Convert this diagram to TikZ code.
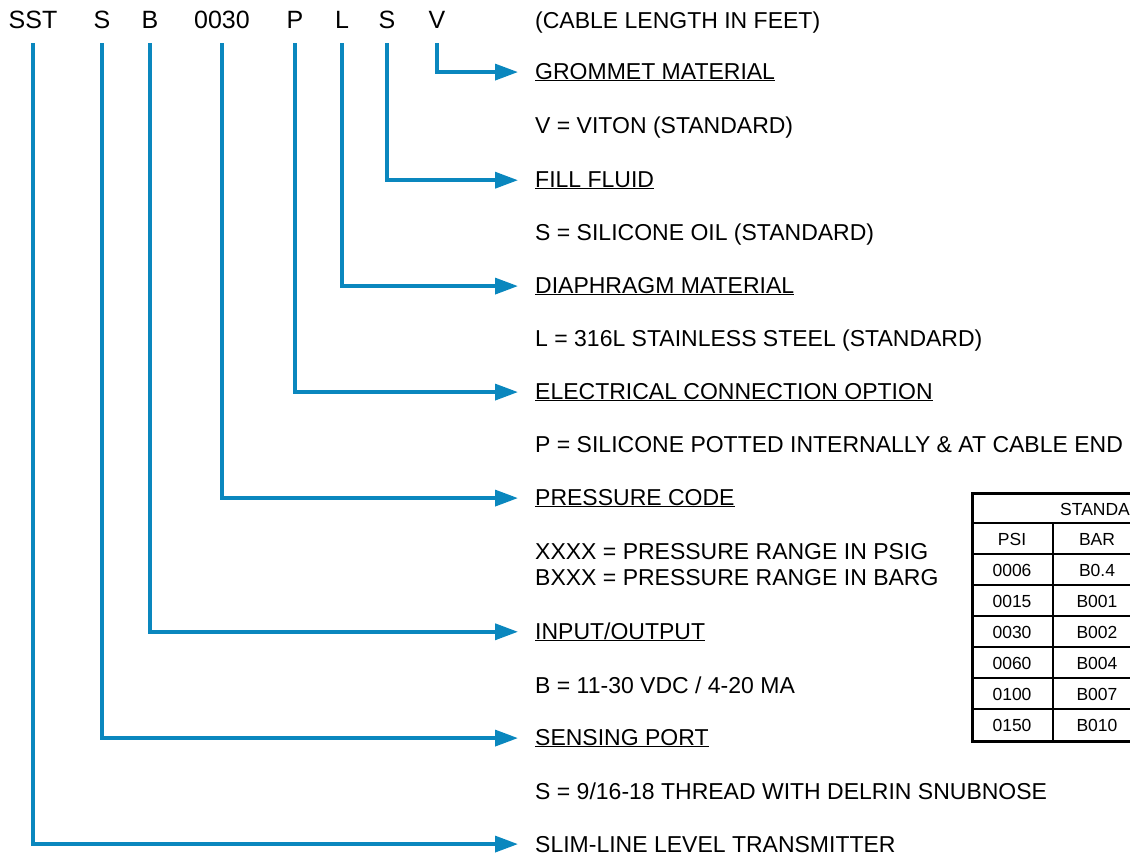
\documentclass[tikz,border=0pt]{standalone}
\usepackage{fontspec}
\setmainfont{Liberation Sans}
\usepackage{xcolor}
\usetikzlibrary{arrows.meta}
\definecolor{leadblue}{HTML}{0A87BE}
\tikzset{
  tcode/.style={font=\fontsize{25}{25}\selectfont, inner sep=0pt, anchor=base},
  tlbl/.style={font=\fontsize{23}{23}\selectfont, inner sep=0pt, anchor=base west},
  tlead/.style={-{Triangle[length=23pt, width=16pt]}, line width=3.5pt, leadblue, shorten <=15pt, shorten >=17pt},
  tgrid/.style={line width=2pt, black},
  tcell/.style={font=\fontsize{17.5}{17.5}\selectfont, inner sep=0pt, anchor=base},
}
\newcommand{\ul}[1]{\underline{#1}}

\begin{document}
\begin{tikzpicture}[x=1pt, y=-1pt]
    \clip (0,0) rectangle (1130,855);
    % model code
    \node[tcode] (sst) at (33,28) {SST};
    \node[tcode] (port) at (102,28) {S};
    \node[tcode] (io) at (150,28) {B};
    \node[tcode] (press) at (222,28) {0030};
    \node[tcode] (elec) at (295,28) {P};
    \node[tcode] (diaph) at (342,28) {L};
    \node[tcode] (fluid) at (387,28) {S};
    \node[tcode] (grom) at (437,28) {V};
    % descriptions
    \node[tlbl] (cable) at (535,28) {(CABLE LENGTH IN FEET)};
    \node[tlbl] (gromh) at (535,79) {\ul{GROMMET MATERIAL}};
    \node[tlbl] (gromv) at (535,133) {V = VITON (STANDARD)};
    \node[tlbl] (fluidh) at (535,187) {\ul{FILL FLUID}};
    \node[tlbl] (fluidv) at (535,240) {S = SILICONE OIL (STANDARD)};
    \node[tlbl] (diaphh) at (535,293) {\ul{DIAPHRAGM MATERIAL}};
    \node[tlbl] (diaphv) at (535,346) {L = 316L STAINLESS STEEL (STANDARD)};
    \node[tlbl] (elech) at (535,399) {\ul{ELECTRICAL CONNECTION OPTION}};
    \node[tlbl] (elecv) at (535,452) {P = SILICONE POTTED INTERNALLY \& AT CABLE END};
    \node[tlbl] (pressh) at (535,505) {\ul{PRESSURE CODE}};
    \node[tlbl] (pressv) at (535,559) {XXXX = PRESSURE RANGE IN PSIG};
    \node[tlbl] (pressb) at (535,585) {BXXX = PRESSURE RANGE IN BARG};
    \node[tlbl] (ioh) at (535,639) {\ul{INPUT/OUTPUT}};
    \node[tlbl] (iov) at (535,693) {B = 11-30 VDC / 4-20 MA};
    \node[tlbl] (porth) at (535,745) {\ul{SENSING PORT}};
    \node[tlbl] (portv) at (535,799) {S = 9/16-18 THREAD WITH DELRIN SNUBNOSE};
    \node[tlbl] (sleve) at (535,852) {SLIM-LINE LEVEL TRANSMITTER};
    % leaders
    \draw[tlead] (grom.south) |- (gromh.west);
    \draw[tlead] (fluid.south) |- (fluidh.west);
    \draw[tlead] (diaph.south) |- (diaphh.west);
    \draw[tlead] (elec.south) |- (elech.west);
    \draw[tlead] (press.south) |- (pressh.west);
    \draw[tlead] (io.south) |- (ioh.west);
    \draw[tlead] (port.south) |- (porth.west);
    \draw[tlead] (sst.south) |- (sleve.west);
    % standard ranges table
    \draw[tgrid, line width=3pt] (972,493) rectangle (1140,741);
    \draw[tgrid] (972,523) -- (1140,523);
    \draw[tgrid] (972,554) -- (1140,554);
    \draw[tgrid] (972,585) -- (1140,585);
    \draw[tgrid] (972,616) -- (1140,616);
    \draw[tgrid] (972,647) -- (1140,647);
    \draw[tgrid] (972,678) -- (1140,678);
    \draw[tgrid] (972,709) -- (1140,709);
    \draw[tgrid] (1053,523) -- (1053,741);
    \node[tcell, anchor=base west] (std) at (1060,515) {STANDA};
    \node[tcell] (psi) at (1012,545) {PSI};
    \node[tcell] (bar) at (1097,545) {BAR};
    \node[tcell] (p1) at (1012,576) {0006};
    \node[tcell] (b1) at (1097,576) {B0.4};
    \node[tcell] (p2) at (1012,607) {0015};
    \node[tcell] (b2) at (1097,607) {B001};
    \node[tcell] (p3) at (1012,638) {0030};
    \node[tcell] (b3) at (1097,638) {B002};
    \node[tcell] (p4) at (1012,669) {0060};
    \node[tcell] (b4) at (1097,669) {B004};
    \node[tcell] (p5) at (1012,700) {0100};
    \node[tcell] (b5) at (1097,700) {B007};
    \node[tcell] (p6) at (1012,731) {0150};
    \node[tcell] (b6) at (1097,731) {B010};
\end{tikzpicture}
\end{document}
